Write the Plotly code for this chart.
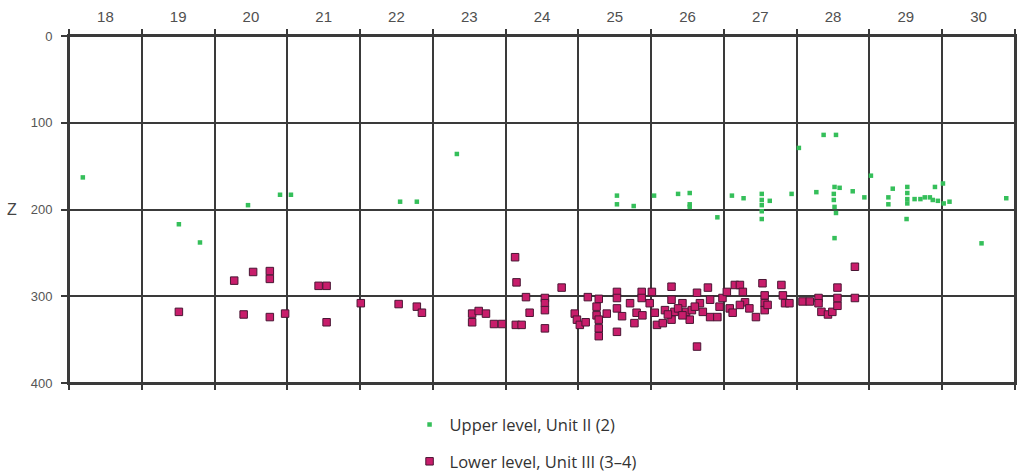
import plotly.graph_objects as go

# ---- data ----
columns = list(range(18, 31))
column_labels = [str(c) for c in columns]
z_ticks = [0, 100, 200, 300, 400]
z_ticklabels = ["0", "100", "200", "300", "400"]

upper_x = [17.69, 19.01, 19.30, 19.96, 20.40, 20.55, 22.05, 22.28, 22.83,
           25.03, 25.03, 25.26, 25.54, 25.87, 26.03, 26.03, 26.03, 26.41,
           26.61, 26.77, 27.02, 27.02, 27.02, 27.02, 27.02, 27.13, 27.43,
           27.53, 27.77, 27.87, 28.04, 28.02, 28.09, 28.01, 28.01, 28.02,
           28.04, 28.02, 28.27, 28.43, 28.52, 28.82, 28.76, 28.76, 29.02,
           29.02, 29.02, 29.02, 29.01, 29.12, 29.20, 29.26, 29.33, 29.40,
           29.37, 29.44, 29.51, 29.52, 29.60, 30.04, 30.38]
upper_z = [163, 217, 238, 195, 183, 183, 191, 191, 136,
           184, 194, 196, 184, 182, 181, 194, 197, 209,
           184, 187, 182, 189, 195, 202, 211, 190, 182,
           129, 180, 114, 114, 174, 175, 182, 189, 197,
           204, 233, 179, 186, 161, 176, 186, 194, 174,
           181, 188, 193, 211, 188, 188, 186, 186, 174,
           189, 190, 170, 193, 191, 239, 187]

lower_x = [19.01, 19.77, 20.03, 20.26, 20.26, 19.90, 20.26, 20.47, 20.93, 21.04,
           21.04, 21.51, 22.03, 22.28, 22.35, 23.04, 23.04, 23.13, 23.23, 23.34,
           23.63, 23.65, 23.78, 23.83, 24.04, 24.04, 24.04, 24.04, 24.27, 23.45,
           23.64, 23.72, 24.45, 24.48, 24.52, 24.60, 24.63, 24.78, 24.75, 24.75,
           24.78, 24.78, 24.78, 24.89, 25.03, 25.03, 25.03, 25.10, 25.03, 25.21,
           25.30, 25.27, 25.37, 25.37, 25.38, 25.51, 25.48, 25.55, 25.58,
           25.66, 25.78, 25.78, 25.82, 25.78, 25.93, 26.03, 26.13, 26.13, 26.17,
           26.28, 26.31, 26.31, 26.41, 26.44, 26.48, 26.54, 26.58, 26.62, 26.65,
           26.72, 26.76, 26.79, 26.72, 26.85, 26.94, 27.03, 27.06, 27.06, 27.06,
           27.10, 27.29, 27.31, 27.34, 27.40,
           25.69, 25.73, 25.87, 25.98, 26.06, 26.21, 25.93, 26.10,
           28.30, 27.58, 27.68, 27.80, 27.80, 27.84, 27.93, 27.99, 28.06, 28.06,
           28.06, 28.30]
lower_z = [318, 282, 272, 271, 280, 321, 324, 320, 288, 288,
           330, 308, 309, 312, 319, 320, 330, 317, 320, 332,
           255, 284, 301, 319, 302, 308, 316, 337, 290, 332,
           333, 333, 320, 327, 333, 330, 301, 303, 312, 322,
           327, 337, 346, 320, 295, 302, 314, 323, 341, 308,
           319, 331, 295, 302, 322, 295, 308, 319, 333,
           331, 289, 304, 318, 327, 308, 327, 358, 296, 308,
           290, 304, 324, 324, 312, 302, 295, 314, 319, 287,
           287, 295, 307, 310, 314, 324, 285, 299, 308, 316,
           310, 287, 299, 308, 308,
           316, 321, 314, 318, 316, 318, 322, 312,
           266, 306, 306, 302, 308, 318, 321, 318, 311, 302,
           290, 302]

GRID = "#3a3a3a"
LABEL = "#505050"

fig = go.Figure()
fig.add_trace(go.Scatter(
    x=upper_x, y=upper_z, mode="markers", name="Upper level, Unit II (2)",
    marker=dict(symbol="square", size=4.5, color="#35bf5a", line=dict(width=0)),
    legend="legend", showlegend=True))
fig.add_trace(go.Scatter(
    x=lower_x, y=lower_z, mode="markers", name="Lower level, Unit III (3\u20134)",
    marker=dict(symbol="square", size=7.5, color="#c81d6b",
                line=dict(width=1, color="#4a1634")),
    legend="legend2", showlegend=True))

legend_font = dict(family="Open Sans", size=16.5, color="#333")
fig.update_layout(
    width=1024, height=473,
    margin=dict(l=69, r=9, t=36, b=90, autoexpand=False),
    paper_bgcolor="white", plot_bgcolor="white",
    showlegend=True,
    font=dict(family="Liberation Sans, Arial, sans-serif", color=LABEL),
    legend=dict(x=0.36, y=-0.07, xanchor="left", yanchor="top",
                font=legend_font, bgcolor="rgba(0,0,0,0)", itemwidth=30),
    legend2=dict(x=0.36, y=-0.176, xanchor="left", yanchor="top",
                 font=legend_font, bgcolor="rgba(0,0,0,0)", itemwidth=30),
    annotations=[dict(text="Z", xref="paper", yref="paper", x=-0.06, y=0.5,
                      showarrow=False, xanchor="center", yanchor="middle",
                      font=dict(size=16, color="#444"))],
    shapes=[dict(type="rect", xref="paper", yref="paper", x0=0, x1=1, y0=0, y1=1,
                 line=dict(color=GRID, width=2), layer="above")],
)

fig.update_xaxes(
    side="top", range=[17.5, 30.5], automargin=False,
    tickvals=columns, ticktext=column_labels, ticks="",
    tickfont=dict(size=15, color=LABEL), ticklabelstandoff=6,
    showgrid=False, zeroline=False,
    showline=True, linecolor=GRID, linewidth=2, mirror="ticks",
    minor=dict(tick0=17.5, dtick=1, showgrid=True, gridcolor=GRID, gridwidth=1.8,
               ticks="outside", ticklen=5, tickcolor=GRID, tickwidth=1.5),
)
fig.update_yaxes(
    range=[400, 0], tickvals=z_ticks, ticktext=z_ticklabels, automargin=False,
    ticks="outside", ticklen=6, tickcolor=GRID, tickwidth=1.5,
    tickfont=dict(size=13, color="#555"), ticklabelstandoff=6,
    showgrid=True, gridcolor=GRID, gridwidth=1.8, zeroline=False,
    showline=True, linecolor=GRID, linewidth=2, mirror=True,
)

fig.write_html(
    "out.html", config={"displayModeBar": False},
    post_script=("document.body.style.margin='0';"
                 "document.body.style.overflow='hidden';"
                 "document.documentElement.style.overflow='hidden';"))
